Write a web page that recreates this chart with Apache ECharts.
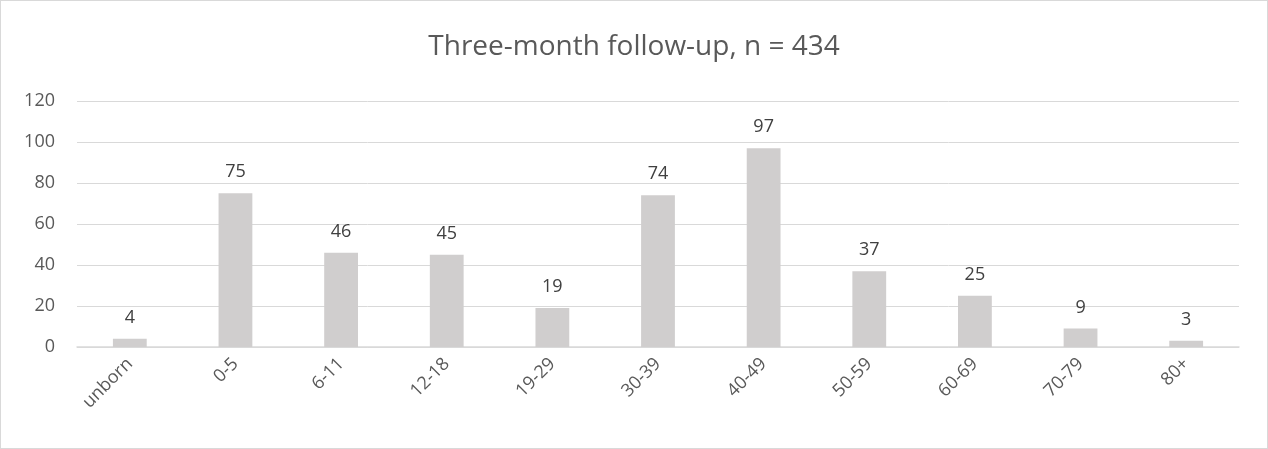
<!DOCTYPE html>
<html>
<head>
<meta charset="utf-8">
<script src="https://cdn.jsdelivr.net/npm/echarts@6/dist/echarts.min.js"></script>
<style>
  html, body { margin: 0; padding: 0; background: #fff; }
  #chart { width: 1268px; height: 449px; box-sizing: border-box; border: 1px solid #d9d9d9; }
</style>
</head>
<body>
<div id="chart"></div>
<script>
// age groups
const categories = ['unborn', '0-5', '6-11', '12-18', '19-29', '30-39', '40-49', '50-59', '60-69', '70-79', '80+']
const counts = [4, 75, 46, 45, 19, 74, 97, 37, 25, 9, 3]
const yTicks = [0, 20, 40, 60, 80, 100, 120]

const chart = echarts.init(document.getElementById('chart'))
const font = '"Open Sans", "Noto Sans", sans-serif'

chart.setOption({
  animation: false,
  title: {
    text: 'Three-month follow-up, n = 434',
    left: 'center',
    top: 27,
    textStyle: { color: '#595959', fontSize: 28, fontWeight: 'normal', fontFamily: font }
  },
  grid: { left: 76, right: 28, top: 100, bottom: 101 },
  xAxis: {
    type: 'category',
    data: categories,
    axisLine: { lineStyle: { color: '#d9d9d9', width: 1.5 } },
    axisTick: { show: false },
    axisLabel: { color: '#595959', fontSize: 18, rotate: 45, margin: 14, fontFamily: font }
  },
  yAxis: {
    type: 'value',
    min: yTicks[0],
    max: yTicks[yTicks.length - 1],
    interval: 20,
    axisLine: { show: false },
    axisTick: { show: false },
    axisLabel: { color: '#595959', fontSize: 18, margin: 22, fontFamily: font },
    splitLine: { lineStyle: { color: '#d9d9d9', width: 1 } }
  },
  series: [{
    type: 'bar',
    data: counts,
    barWidth: '32%',
    itemStyle: { color: '#d0cece' },
    label: {
      show: true,
      position: 'top',
      distance: 12,
      color: '#404040',
      fontSize: 18,
      fontFamily: font
    }
  }]
})
</script>
</body>
</html>
